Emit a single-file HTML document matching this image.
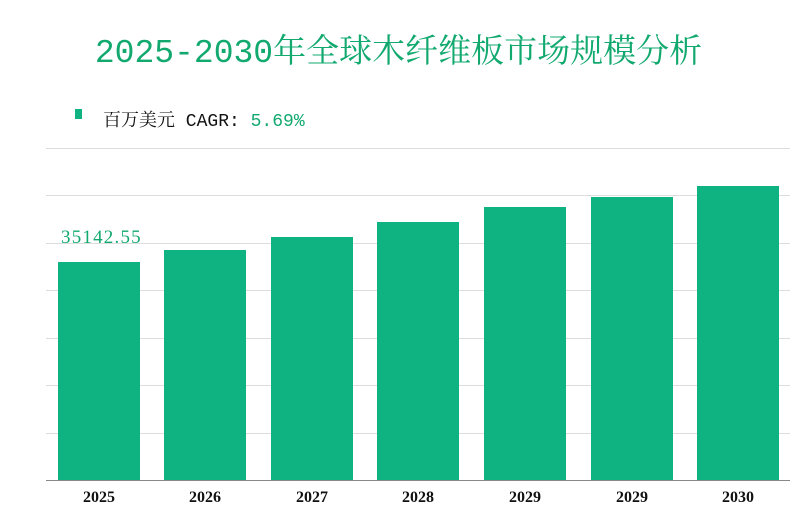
<!DOCTYPE html>
<html><head><meta charset="utf-8"><style>
body{margin:0;width:797px;height:522px;background:#fff;overflow:hidden;position:relative;font-family:"Liberation Serif","Noto Serif CJK SC",serif}
.t{position:absolute;left:0;width:797px;top:25px;text-align:center;font-size:33px;color:#12a96f;font-family:"Liberation Mono","Noto Serif CJK SC",monospace;white-space:nowrap}
.g{position:absolute;left:46px;width:744px;height:1px;background:#ddd}
.b{position:absolute;width:82px;background:#0fb381}
.x{position:absolute;top:489px;width:82px;text-align:center;font-size:16px;font-weight:bold;color:#111}
</style></head><body>
<div class="t">2025-2030年全球木纤维板市场规模分析</div>
<div style="position:absolute;left:75px;top:109px;width:7px;height:10px;background:#0fb381"></div>
<div style="position:absolute;left:103px;top:106px;font-size:18px;color:#111;font-family:'Liberation Mono','Noto Serif CJK SC',monospace;white-space:nowrap">百万美元 CAGR: <span style="color:#12a96f">5.69%</span></div>
<div class="g" style="top:148px"></div><div class="g" style="top:195px"></div><div class="g" style="top:243px"></div><div class="g" style="top:290px"></div><div class="g" style="top:338px"></div><div class="g" style="top:385px"></div><div class="g" style="top:433px"></div>
<div class="g" style="top:480px;background:#888"></div>
<div class="b" style="left:58px;top:262px;height:218px"></div>
<div class="b" style="left:164px;top:250px;height:230px"></div>
<div class="b" style="left:271px;top:237px;height:243px"></div>
<div class="b" style="left:377px;top:222px;height:258px"></div>
<div class="b" style="left:484px;top:207px;height:273px"></div>
<div class="b" style="left:591px;top:197px;height:283px"></div>
<div class="b" style="left:697px;top:186px;height:294px"></div>
<div style="position:absolute;left:61px;top:227px;font-size:19px;color:#12a96f;font-family:'Liberation Serif',serif;letter-spacing:1.2px">35142.55</div>
<div class="x" style="left:58px">2025</div><div class="x" style="left:164px">2026</div><div class="x" style="left:271px">2027</div><div class="x" style="left:377px">2028</div><div class="x" style="left:484px">2029</div><div class="x" style="left:591px">2029</div><div class="x" style="left:697px">2030</div>
</body></html>
